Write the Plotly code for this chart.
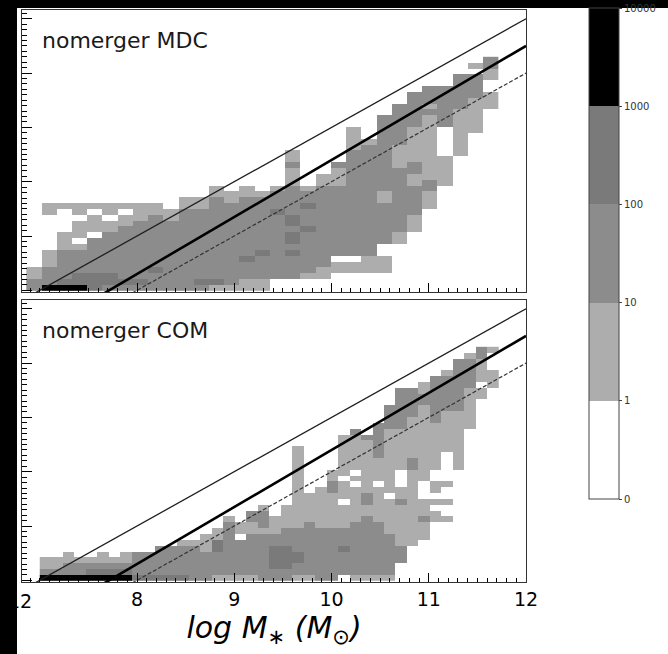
import numpy as np
import plotly.graph_objects as go

W, H = 668, 654
FONT = "DejaVu Sans"

# Colour-bar bands: 0 = empty, 1 = 1-10, 2 = 10-100, 3 = 100-1000, 4 = 1000-10000 objects per bin
BAND_LABELS = ["0", "1", "10", "100", "1000", "10000"]
BAND_COLORS = ["#ffffff", "#adadad", "#8c8c8c", "#7a7a7a", "#000000"]

# Mass tick labels along the bottom axis
X_TICKS = [8, 9, 10, 11, 12]

# Histogram binning (start, stop, number of bins)
MDC_X_BINS = (6.862, 11.716, 31)
COM_X_BINS = (7.0, 11.716, 40)
Y_BINS = (4.0, 8.3, 40)

# One entry per mass bin: (first occupied row, band of each row going upward; '.' = empty bin)
MDC_COLUMNS = [
    (0, "2211"),
    (0, "4222111......11"),
    (0, "4322222111....1"),
    (0, "43322221.111.11"),
    (0, "333222222.111.1"),
    (0, "233222222211.11"),
    (0, "2322222222211.1"),
    (0, "232222222222111"),
    (0, "222322222222211"),
    (0, "22222222222211"),
    (0, "2222222222222211"),
    (0, "2322222222222211"),
    (0, "132222222222222211"),
    (0, "12222222222222211"),
    (0, "112223222222222211"),
    (0, "11222232222222221"),
    (2, "2222222222232221"),
    (2, "2222323323322222111211"),
    (2, "1222222232223221"),
    (2, "112222222222222211"),
    (3, "11.2222222222221112"),
    (3, "11.2222222222222222221111"),
    (3, "11122222222222222222221"),
    (3, "111..2222222112222222222222"),
    (8, "112222222222211112222222"),
    (10, "111222221122111111222222"),
    (14, "111221111111111121222"),
    (18, "11111.....2222222"),
    (23, "11111111222222"),
    (27, "1111112222.1"),
    (31, "111..1122"),
]

COM_COLUMNS = [
    (0, "4211"),
    (0, "4211"),
    (0, "42211"),
    (0, "4221"),
    (0, "4321"),
    (0, "43211"),
    (0, "4321"),
    (0, "43211"),
    (0, "32222"),
    (0, "32222"),
    (0, "322222"),
    (0, "322222"),
    (0, "3222221"),
    (0, "2222221"),
    (0, "22222111"),
    (0, "122223311"),
    (0, "12222222221"),
    (0, "1222222.11"),
    (0, "122222221122"),
    (0, "2222222212221"),
    (0, "22333322111"),
    (0, "2233332221111"),
    (0, "12233222211111111111111"),
    (0, "122222222211111"),
    (0, "2222222221111111"),
    (0, "2222222221111112211"),
    (1, "222232221111.111.1111111"),
    (0, "1222222222111111.1.1111112"),
    (0, "1222222222211221111111112"),
    (0, "1222222222111111.1111222222"),
    (0, "12222222111111.111111111112222"),
    (3, "2221111111211...11111112222222"),
    (6, "111111111111122111111122222"),
    (7, "1112111...11111111111112211"),
    (10, "11.1.11..1111111122222222"),
    (10, "1..1..1.....11111112222221"),
    (19, "1111111111222222222"),
    (26, "1111111222221"),
    (31, "11.111122"),
    (33, "111...1"),
]

# Scaling relations: Reines & Volonteri (2015) fit and constant mass ratios
RV15_NORM, RV15_SLOPE, RV15_PIVOT = 7.45, 1.05, 11.0
LOG_RATIO_HIGH = -3.0
LOG_RATIO_LOW = -4.0

X_RANGE = [6.8175, 12.0]
Y_RANGE = [3.969, 9.162]


def band_grid(columns, n_rows):
    z = [[None] * len(columns) for _ in range(n_rows)]
    for c, (start, bands) in enumerate(columns):
        for i, ch in enumerate(bands):
            if ch != "." and start + i < n_rows:
                z[start + i][c] = int(ch) + 0.5
    return z


y_edges = np.linspace(*Y_BINS[:2], Y_BINS[2] + 1)
n_bands = len(BAND_COLORS)
colorscale = []
for k, col in enumerate(BAND_COLORS):
    colorscale.append([k / n_bands, col])
    colorscale.append([(k + 1) / n_bands, col])

fig = go.Figure()

panels = [
    ("x", "y", MDC_COLUMNS, MDC_X_BINS),
    ("x2", "y2", COM_COLUMNS, COM_X_BINS),
]
xs = np.array(X_RANGE)
for xa, ya, cols, xb in panels:
    x_edges = np.linspace(xb[0], xb[1], xb[2] + 1)
    fig.add_trace(go.Heatmap(
        x=x_edges, y=y_edges, z=band_grid(cols, Y_BINS[2]),
        coloraxis="coloraxis", xaxis=xa, yaxis=ya, hoverongaps=False,
    ))
    fig.add_trace(go.Scatter(
        x=xs, y=xs + LOG_RATIO_HIGH, mode="lines", xaxis=xa, yaxis=ya,
        line=dict(color="#1f1f1f", width=1.3), showlegend=False,
    ))
    fig.add_trace(go.Scatter(
        x=xs, y=RV15_NORM + RV15_SLOPE * (xs - RV15_PIVOT), mode="lines",
        xaxis=xa, yaxis=ya, line=dict(color="#000000", width=2.6), showlegend=False,
    ))
    fig.add_trace(go.Scatter(
        x=xs, y=xs + LOG_RATIO_LOW, mode="lines", xaxis=xa, yaxis=ya,
        line=dict(color="#333333", width=1.2, dash="4px,2px"), showlegend=False,
    ))

x_dom = [22 / W, 526 / W]
top_dom = [1 - 292 / H, 1 - 10 / H]
bot_dom = [1 - 582 / H, 1 - 300 / H]

common_x = dict(
    range=X_RANGE, domain=x_dom, tickmode="array", tickvals=X_TICKS,
    ticktext=[str(v) for v in X_TICKS], ticks="inside", ticklen=9,
    tickwidth=1, tickcolor="black",
    minor=dict(ticks="inside", tick0=8, dtick=0.1, ticklen=4, tickcolor="black", tickwidth=1),
    showline=True, mirror=True, linecolor="#333333", linewidth=1,
    showgrid=False, zeroline=False,
)
common_y = dict(
    range=Y_RANGE, tick0=4, dtick=1, ticks="inside", ticklen=10,
    tickwidth=1, tickcolor="black",
    minor=dict(ticks="inside", dtick=0.1, ticklen=5, tickcolor="black", tickwidth=1),
    showline=True, mirror=True, linecolor="#333333", linewidth=1,
    showgrid=False, zeroline=False, showticklabels=False,
)

fig.update_layout(
    width=W, height=H,
    margin=dict(l=0, r=0, t=0, b=0, autoexpand=False),
    paper_bgcolor="white", plot_bgcolor="white",
    font=dict(family=FONT, color="black"),
    showlegend=False,
    xaxis=dict(common_x, anchor="y", showticklabels=False),
    yaxis=dict(common_y, domain=top_dom, anchor="x"),
    xaxis2=dict(
        common_x, anchor="y2", showticklabels=True,
        tickfont=dict(family=FONT, size=19, color="black"),
        title=dict(
            text="<i>log M</i><sub>∗</sub> <i>(M</i><sub>⊙</sub><i>)</i>",
            font=dict(family=FONT, size=30, color="black"), standoff=0,
        ),
    ),
    yaxis2=dict(common_y, domain=bot_dom, anchor="x2"),
    coloraxis=dict(
        cmin=0, cmax=5, colorscale=colorscale,
        colorbar=dict(
            x=589 / W, xanchor="left", y=1 - 253.5 / H, yanchor="middle",
            len=491 / H, lenmode="fraction", thickness=30, thicknessmode="pixels",
            outlinewidth=1, outlinecolor="#444444",
            tickmode="array", tickvals=list(range(len(BAND_LABELS))), ticktext=BAND_LABELS,
            ticks="outside", ticklen=3, tickcolor="#444444",
            tickfont=dict(family=FONT, size=10, color="#333333"),
            xpad=0, ypad=0,
        ),
    ),
    annotations=[
        dict(text="nomerger MDC", x=40 / W, y=1 - 40 / H, xref="paper", yref="paper",
             xanchor="left", yanchor="middle", showarrow=False,
             font=dict(family=FONT, size=22, color="#1a1a1a")),
        dict(text="nomerger COM", x=40 / W, y=1 - 330 / H, xref="paper", yref="paper",
             xanchor="left", yanchor="middle", showarrow=False,
             font=dict(family=FONT, size=22, color="#1a1a1a")),
        dict(text="12", x=33.5 / W, y=1 - 601 / H, xref="paper", yref="paper",
             xanchor="right", yanchor="middle", showarrow=False,
             font=dict(family=FONT, size=19, color="black")),
    ],
    shapes=[
        dict(type="rect", xref="paper", yref="paper", x0=0, x1=17 / W, y0=0, y1=1,
             fillcolor="black", line=dict(width=0), layer="above"),
        dict(type="rect", xref="paper", yref="paper", x0=0, x1=1, y0=1 - 8 / H, y1=1,
             fillcolor="black", line=dict(width=0), layer="above"),
    ],
)

fig.write_html("out.html")
